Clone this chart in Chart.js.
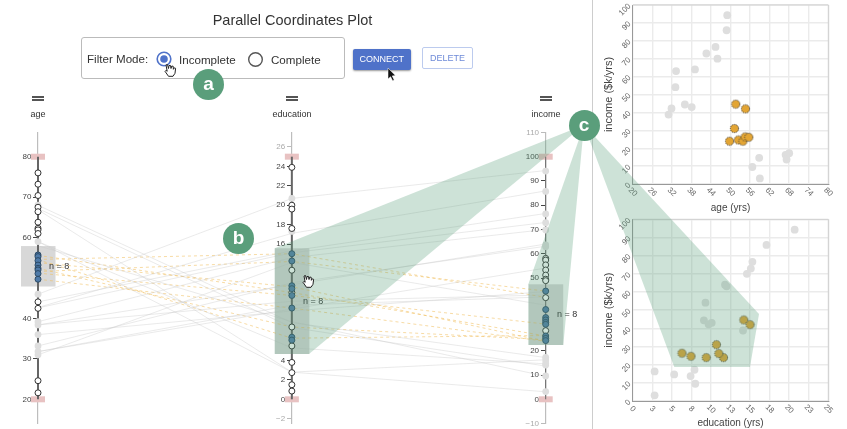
<!DOCTYPE html>
<html><head><meta charset="utf-8">
<script src="https://cdn.jsdelivr.net/npm/chart.js@4"></script>
<style>
html,body{margin:0;padding:0;background:#fff;width:847px;height:429px;overflow:hidden;font-family:"Liberation Sans",Arial,sans-serif;color:#333}
canvas{position:absolute}
.t{position:absolute;white-space:nowrap}
#svg{position:absolute;left:0;top:0;pointer-events:none}
.badge{position:absolute;width:31px;height:31px;border-radius:50%;background:#5a9e7b;color:#fff;font-weight:bold;font-size:19px;line-height:30px;text-align:center}
.bars{position:absolute;width:12px;height:1.5px;border-top:2px solid #555;border-bottom:2px solid #555;box-sizing:content-box}
</style></head><body>
<canvas id="pcp" width="592" height="429" style="left:0;top:0"></canvas>
<div style="position:absolute;left:591.5px;top:0;width:1.5px;height:429px;background:#cdcdcd"></div>
<canvas id="s1" width="252" height="214" style="left:595px;top:0"></canvas>
<canvas id="s2" width="252" height="215" style="left:595px;top:214px"></canvas>

<div class="t" style="left:0;width:585px;top:12px;text-align:center;font-size:14.5px">Parallel Coordinates Plot</div>
<div style="position:absolute;left:81px;top:37px;width:264px;height:42px;border:1px solid #bbb;border-radius:3px;box-sizing:border-box"></div>
<div class="t" style="left:87px;top:51.5px;font-size:11.6px">Filter Mode:</div>
<div class="t" style="left:179px;top:52.5px;font-size:11.6px">Incomplete</div>
<div class="t" style="left:271px;top:52.5px;font-size:11.6px">Complete</div>
<div style="position:absolute;left:352.5px;top:48.5px;width:58.5px;height:21.5px;background:#4f72c9;border-radius:2px;color:#fff;font-size:9px;line-height:21.5px;text-align:center;box-shadow:0 1px 2px #999">CONNECT</div>
<div style="position:absolute;left:422px;top:47px;width:51px;height:22px;border:1px solid #bccbee;border-radius:2px;box-sizing:border-box;color:#6f8bd8;font-size:9px;line-height:20px;text-align:center">DELETE</div>

<div class="bars" style="left:32px;top:95.5px"></div><div class="bars" style="left:286px;top:95.5px"></div><div class="bars" style="left:540px;top:95.5px"></div>
<div class="t" style="left:0;width:76px;top:109px;text-align:center;font-size:9px">age</div>
<div class="t" style="left:252px;width:80px;top:109px;text-align:center;font-size:9px">education</div>
<div class="t" style="left:506px;width:80px;top:109px;text-align:center;font-size:9px">income</div>
<div class="t" style="left:49px;top:261px;font-size:9px">n = 8</div>
<div class="t" style="left:303px;top:296px;font-size:9px">n = 8</div>
<div class="t" style="left:557px;top:309px;font-size:9px">n = 8</div>

<svg id="svg" width="847" height="429">
  <g fill="rgba(90,158,123,0.3)">
    <polygon points="584,125 274.7,248.3 274.7,354 309,354"/>
    <polygon points="584,125 528.3,284.3 528.3,345 563.3,345"/>
    <polygon points="584,125 674.3,367 750,367 759,314"/>
  </g>
  <circle cx="164" cy="59" r="6.8" fill="#fff" stroke="#4f72c9" stroke-width="1.6"/>
  <circle cx="164" cy="59" r="3.8" fill="#4f72c9"/>
  <circle cx="255.5" cy="59.5" r="6.8" fill="#fff" stroke="#555" stroke-width="1.4"/>
  <path d="M388 68 l0 11 l2.6 -2.3 l2 4 l1.6 -.8 l-2 -4 l3.2 -.3 z" fill="#111" stroke="#fff" stroke-width=".5"/>
  <path id="hand" transform="translate(164,64)" d="M2 1 l1.5 -.5 l1 4 l.5 -3 l1.5 0 l.5 3 l.8 -2.5 l1.4 .3 l.2 3 l1 -1.5 l1.2 .5 l-.6 5 l-2 3 l-4.5 0 l-3.5 -5 l1 -1 l1.2 1 z" fill="#fff" stroke="#222" stroke-width="1"/>
  <path transform="translate(302,275)" d="M2 1 l1.5 -.5 l1 4 l.5 -3 l1.5 0 l.5 3 l.8 -2.5 l1.4 .3 l.2 3 l1 -1.5 l1.2 .5 l-.6 5 l-2 3 l-4.5 0 l-3.5 -5 l1 -1 l1.2 1 z" fill="#fff" stroke="#222" stroke-width="1"/>
</svg>
<div class="badge" style="left:193px;top:69px">a</div>
<div class="badge" style="left:223px;top:223px">b</div>
<div class="badge" style="left:568.5px;top:109.5px">c</div>

<script>
// records: grey (unfiltered) and highlighted (filtered, n = 8)
const greyAge  = [49,48.8,45.4,42.6,46,39.1,33.3,33.1,36,38.1,31.9,31,68,66.9,58.8,67.2,56.7,59];
const greyEdu  = [20.7,17.1,15.3,15.1,14.6,11.8,12,9.3,9.1,10.1,9.7,14.1,7.9,2.8,5.3,7.4,8,2.8];
const greyInc  = [94.3,85.9,76.6,72.9,70,64,63.1,54.1,44.4,43,42.2,38.8,17.2,16.3,14.6,13.7,9.5,3.1];
const hiAge = [51.6,54.6,51.2,49.7,52.4,53.8,54.5,55.6];
const hiEdu = [14.2,15,10.7,9.4,7.45,11.6,6.3,11];
const hiInc = [44.6,42,31,23.9,24.6,23.9,26.3,26.1];
// where the grey polylines leave the age axis of the parallel plot
const greyLineAge = [46,42.7,44.1,42.6,39.2,38.4,33.2,31.8,36,38.4,31.8,31,68,66.9,59,67.2,58,59];

// markers as they sit on each parallel axis
const ageOpen  = [76,73.2,70.4,67.5,66.4,63.8,62.3,61.9,61,44.1,42.5,24.6,21.6];
const ageSoft  = [68,59,46,39.2,38.4,36,33.2,31.8,31];
const ageBlue  = [55.7,55.3,54.3,53.2,52.4,52,51.1,49.7];
const eduOpen  = [23.9,20,19.6,17.6,13.3,11,7.45,5.5,3.8,2.75,1.5,0.85];
const eduSoft  = [20.7,17.3];
const eduBlue  = [15,14.25,11.7,11.4,10.7,9.4,6.4,6.1];
const incOpen  = [58.1,57.4,55.4,53.3,51.2,49.5,48.9,41.9,28.3];
const incSoft  = [94.1,85.7,76.4,72.8,69.8,63.6,62.9,17.3,16.2,14.8,14.1,9.6,3.2];
const incBlue  = [44.6,37,33.7,32.7,31.7,30.9,26.1,25.1,24.2];

// axis ticks and ranges
const ageTicks = [20,30,40,50,60,70,80];
const eduTicks = [-2,0,2,4,6,8,10,12,14,16,18,20,22,24,26];
const incTicks = [-10,0,10,20,30,40,50,60,70,80,90,100,110];
const ageRange = [14.14,85.94];
const eduRange = [-2.44,27.47];
const incRange = [-9.77,109.9];
const ageValid = [20,80];
const eduValid = [0,25];
const incValid = [0,100];
const ageBrush = [47.9,57.9];
const eduBrush = [4.67,15.56];
const incBrush = [22.4,47.4];

// scatter tick labels
const s1XTicks = [20,26,32,38,44,50,56,62,68,74,80];
const s2XTicks = [0,2.5,5,7.5,10,12.5,15,17.5,20,22.5,25];
const s2XLabels = ['0','3','5','8','10','13','15','18','20','23','25'];
const incomeTicks = [0,10,20,30,40,50,60,70,80,90,100];

Chart.defaults.font.family = '"Liberation Sans",Arial,sans-serif';
Chart.defaults.animation = false;

const norm = (v,r)=>(v-r[0])/(r[1]-r[0]);
function lineDs(a,e,i,color,width,dash){
  return {type:'line',data:[{x:0,y:norm(a,ageRange)},{x:1,y:norm(e,eduRange)},{x:2,y:norm(i,incRange)}],
    xAxisID:'x',yAxisID:'y',borderColor:color,borderWidth:width,borderDash:dash,pointRadius:0,fill:false,tension:0,clip:false,order:10};
}
function axisLine(x,yId,ext,width){
  return {type:'line',data:ext.map(v=>({x:x,y:v})),xAxisID:'x',yAxisID:yId,borderColor:'#666',borderWidth:width,pointRadius:0,clip:false,order:8};
}
function marks(x,yId,vals,bg,bd,bw,r,ord){
  return {type:'scatter',data:vals.map(v=>({x:x,y:v})),xAxisID:'x',yAxisID:yId,backgroundColor:bg,borderColor:bd,borderWidth:bw,pointRadius:r,clip:false,order:ord};
}
const SOFT='#dedede', BLUE='#4f7aa8', BLUEB='#2c4a66';
const datasets=[];
greyLineAge.forEach((a,k)=>datasets.push(lineDs(a,greyEdu[k],greyInc[k],'rgba(200,200,200,0.38)',1,[])));
hiAge.forEach((a,k)=>datasets.push(lineDs(a,hiEdu[k],hiInc[k],'rgba(240,190,95,0.56)',1,[3,3])));
datasets.push(axisLine(0,'age',ageValid,2),axisLine(1,'edu',eduValid,2),axisLine(2,'inc',incValid,1));
[[0,'age',ageSoft,ageOpen,ageBlue],[1,'edu',eduSoft,eduOpen,eduBlue],[2,'inc',incSoft,incOpen,incBlue]].forEach(([x,id,s,o,b])=>{
  datasets.push(marks(x,id,s,SOFT,SOFT,0,3.4,7));
  datasets.push(marks(x,id,o,'#fff','#333',1,3,6));
  datasets.push(marks(x,id,b,BLUE,BLUEB,1,3,5));
});

function vAxis(pos,range,ticks,valid){
  return {position:{x:pos},min:range[0],max:range[1],
    afterBuildTicks:s=>{s.ticks=ticks.map(v=>({value:v}));},
    border:{display:true,color:'#bdbdbd',dash:[1.5,1.5],width:1.2},
    grid:{drawOnChartArea:false,tickLength:4,tickColor:c=>(c.tick&&c.tick.value>=valid[0]&&c.tick.value<=valid[1])?'#444':'#bbb',lineWidth:1},
    ticks:{autoSkip:false,font:{size:8},padding:0,
      color:c=>(c.tick.value>=valid[0]&&c.tick.value<=valid[1])?'#444':'#aaa',
      callback:v=>(String(v).replace('-','\u2212'))+'\u00a0\u00a0\u00a0'}};
}
const brushPlugin={id:'brush',beforeDatasetsDraw(ch){
  const c=ch.ctx,s=ch.scales;
  c.save();
  [[0,'age',ageBrush,ageValid],[1,'edu',eduBrush,eduValid],[2,'inc',incBrush,incValid]].forEach(([x,id,br,val])=>{
    const px=s.x.getPixelForValue(x);
    c.fillStyle='#e8c2c2';
    val.forEach(v=>{const y=s[id].getPixelForValue(v);c.fillRect(px-7,y-3,14,6);});
    const t=s[id].getPixelForValue(br[1]),b=s[id].getPixelForValue(br[0]);
    c.fillStyle='#d8d8d8';
    c.fillRect(px-17,t,34.5,b-t);
  });
  c.restore();
}};
new Chart(document.getElementById('pcp'),{
  data:{datasets},
  plugins:[brushPlugin],
  options:{responsive:false,
    layout:{padding:{left:38,right:46.3,top:132.7,bottom:6}},
    plugins:{legend:{display:false},tooltip:{enabled:false}},
    scales:{
      x:{type:'linear',display:false,min:0,max:2},
      y:{type:'linear',display:false,min:0,max:1},
      age:vAxis(0,ageRange,ageTicks,ageValid),
      edu:vAxis(1,eduRange,eduTicks,eduValid),
      inc:vAxis(2,incRange,incTicks,incValid)
    }}
});

function dottedPoint(){
  const cv=document.createElement('canvas');cv.width=cv.height=11;
  const c=cv.getContext('2d');
  c.beginPath();c.arc(5.5,5.5,4.1,0,Math.PI*2);c.fillStyle='#e3a534';c.fill();
  c.strokeStyle='#333';c.lineWidth=1;c.setLineDash([1,1]);c.stroke();
  return cv;
}
function scatter(id,xs,ys,hx,hy,xMax,xTicks,xLabels,xTitle,xPad,padTop,titleUp){
  new Chart(document.getElementById(id),{
    type:'scatter',
    data:{datasets:[
      {data:hx.map((v,k)=>({x:v,y:hy[k]})),pointStyle:dottedPoint(),order:1},
      {data:xs.map((v,k)=>({x:v,y:ys[k]})),backgroundColor:'#dedede',borderWidth:0,pointRadius:3.9,order:2}
    ]},
    options:{responsive:false,
      layout:{padding:{left:0,right:18.7,top:padTop,bottom:0}},
      plugins:{legend:{display:false},tooltip:{enabled:false}},
      scales:{
        x:{type:'linear',min:xPad,max:xMax,
          afterBuildTicks:s=>{s.ticks=xTicks.map(v=>({value:v}));},
          afterFit:s=>{s.height=id==='s1'?30:28;s.paddingLeft=0;s.paddingRight=0;},
          border:{color:'#999',width:1},grid:{color:'#ebebeb',lineWidth:1.4,drawTicks:false},
          ticks:{autoSkip:false,minRotation:45,maxRotation:45,font:{size:8},color:'#666',padding:3,
            callback:(v,i)=>xLabels?xLabels[i]:String(v)},
          title:{display:true,text:xTitle,font:{size:10},color:'#444',padding:{top:titleUp,bottom:0}}},
        y:{type:'linear',min:0,max:100,
          afterBuildTicks:s=>{s.ticks=incomeTicks.map(v=>({value:v}));},
          afterFit:s=>{s.width=37.7;s.paddingTop=0;s.paddingBottom=0;},
          border:{color:'#999',width:1},grid:{color:'#ebebeb',lineWidth:1.4,drawTicks:false},
          ticks:{autoSkip:false,minRotation:45,maxRotation:45,font:{size:8},color:'#666',padding:3},
          title:{display:true,text:'income ($k/yrs)',font:{size:11},color:'#444',padding:{top:7,bottom:0}}}
      }},
    plugins:[{id:'frame',
      beforeDraw(ch){ // x tick labels lean downwards, centred under their ticks
        const s=ch.scales.x;
        s.getLabelItems(ch.chartArea).forEach((it,i)=>{
          it.options.rotation=Math.PI/4;it.options.textAlign='center';it.options.textBaseline='middle';
          it.options.translation=[s.getPixelForValue(xTicks[i]),ch.chartArea.bottom+8];
          it.textOffset=0;
        });
      },
      afterDraw(ch){const a=ch.chartArea,c=ch.ctx;c.save();c.strokeStyle='#cfcfcf';c.lineWidth=1;
      c.beginPath();c.moveTo(a.left,a.top);c.lineTo(a.right,a.top);c.lineTo(a.right,a.bottom);c.stroke();c.restore();}}]
  });
}
scatter('s1',greyAge,greyInc,hiAge,hiInc,80,s1XTicks,null,'age (yrs)',20,1.7,4.7);
scatter('s2',greyEdu,greyInc,hiEdu,hiInc,25,s2XTicks,s2XLabels,'education (yrs)',0,5.3,1.5);
</script>
</body></html>
